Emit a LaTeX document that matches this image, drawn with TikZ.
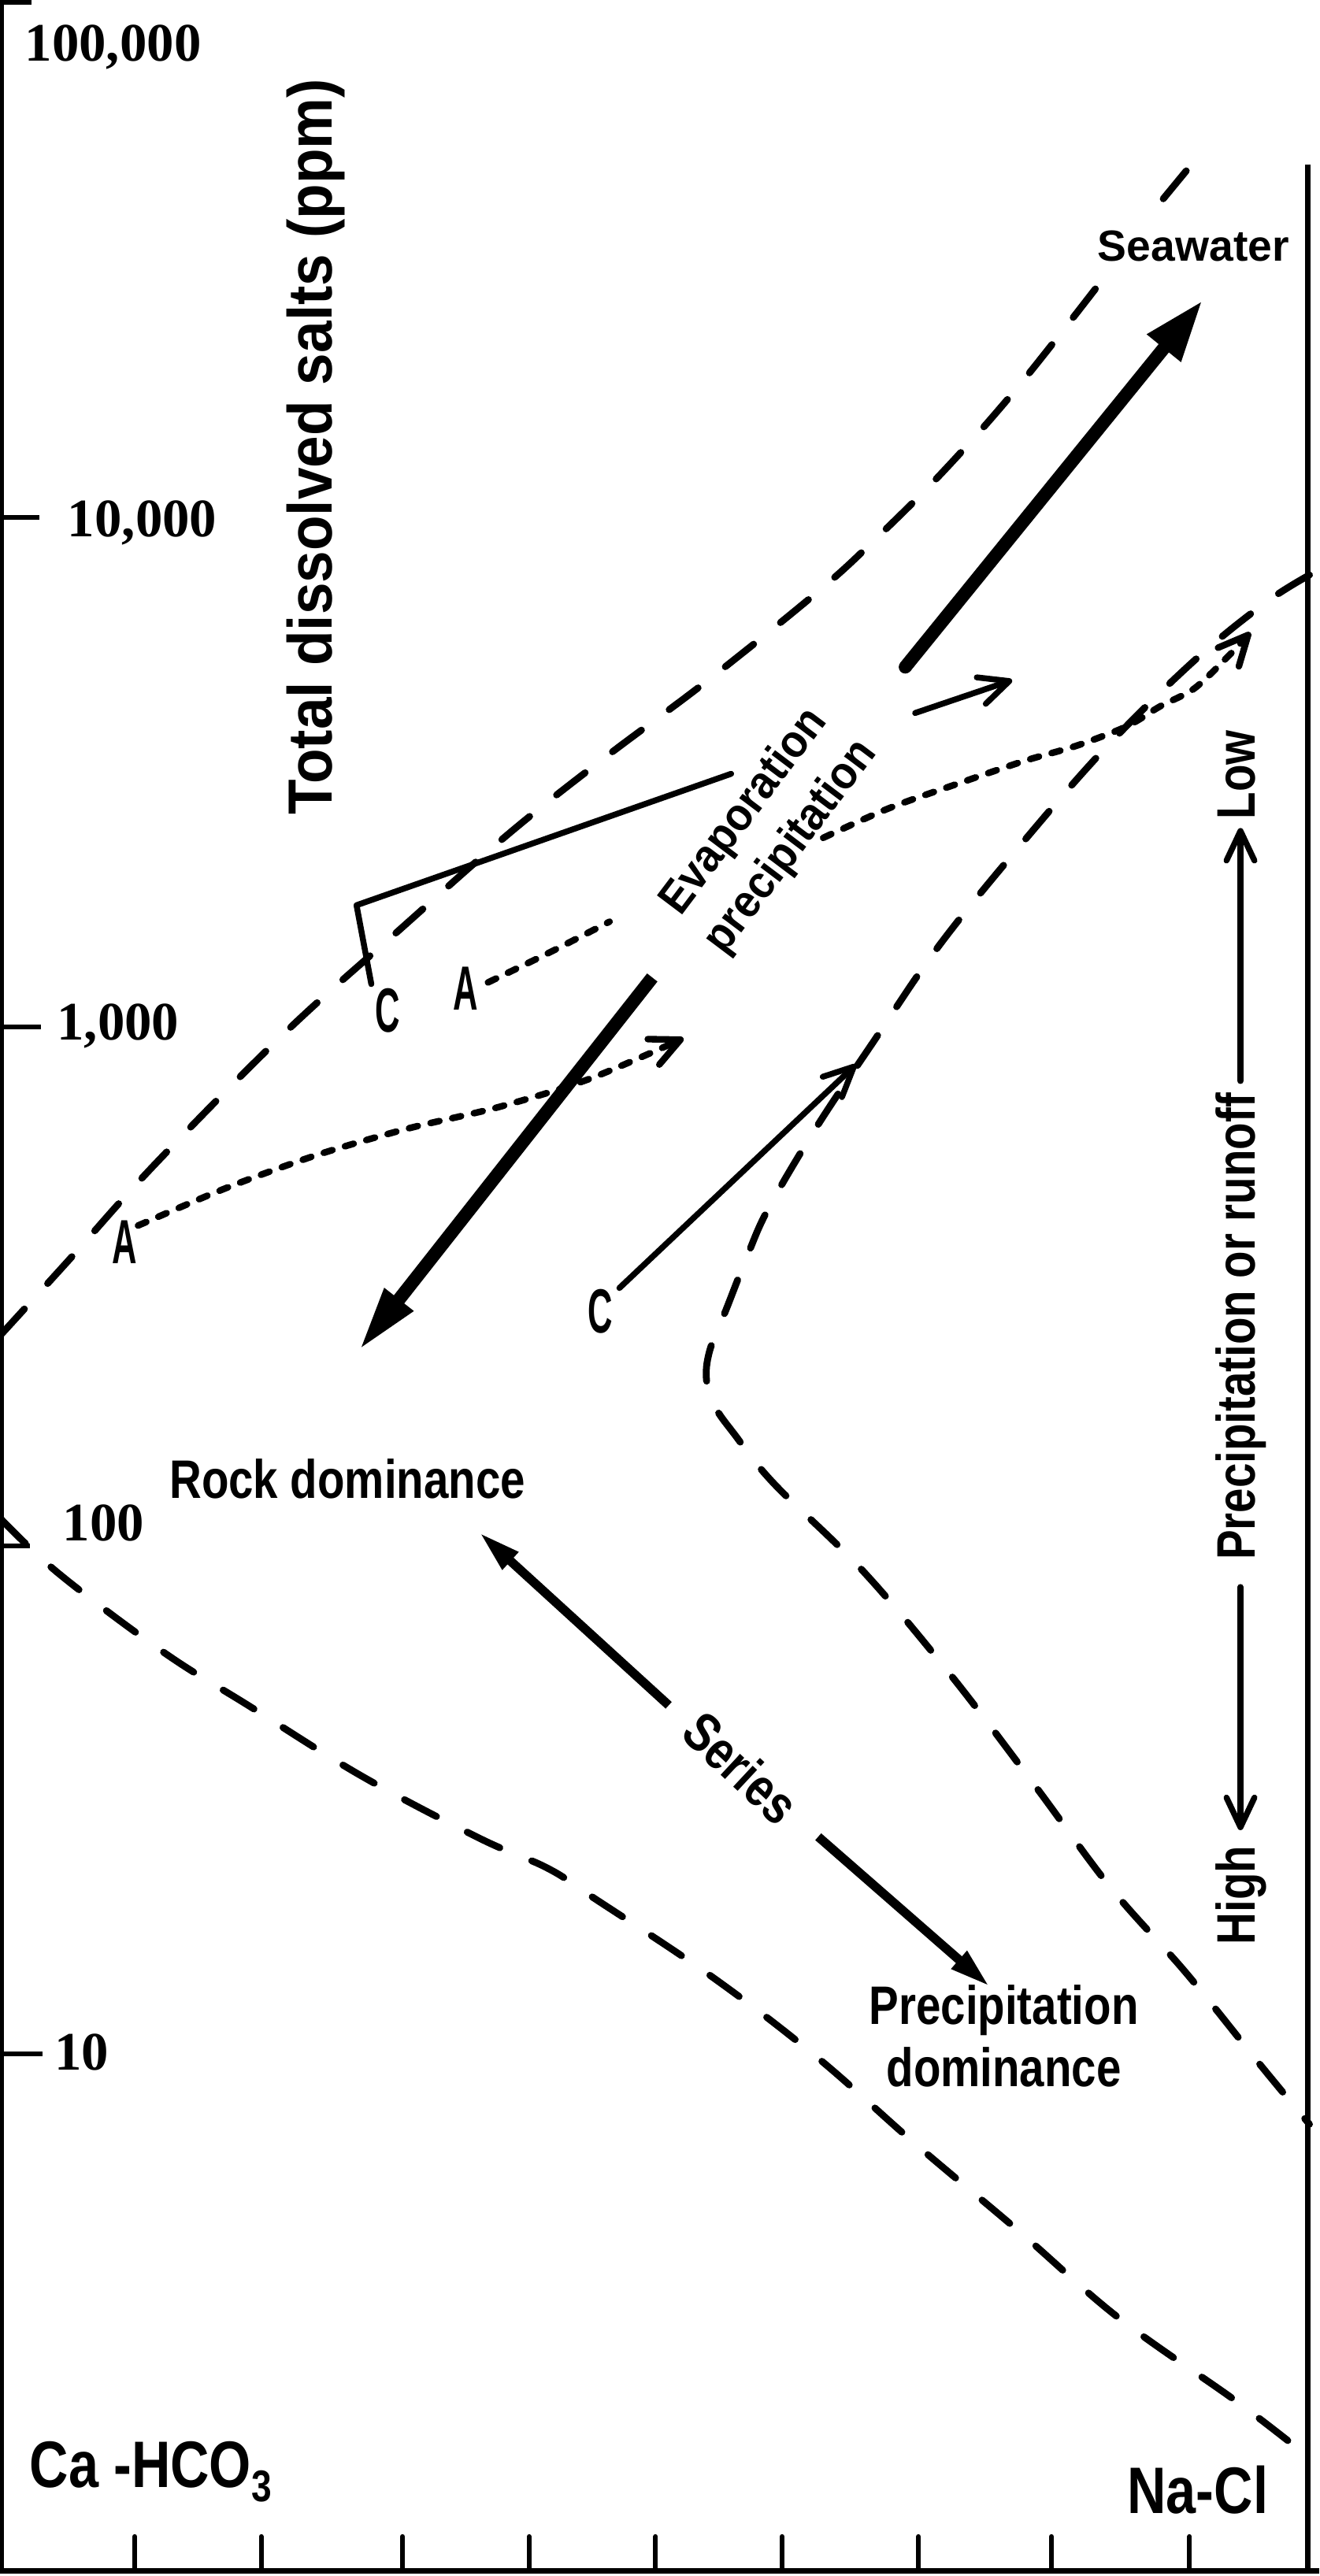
\documentclass[tikz,border=0pt]{standalone}
\usepackage{fontspec}
\setmainfont{Liberation Sans}
\newfontfamily\condf[FakeStretch=0.82]{Liberation Sans}
\newfontfamily\narf[FakeStretch=0.55]{Liberation Sans}
\newfontfamily\medf[FakeStretch=0.92]{Liberation Sans}
\newfontfamily\numf{Liberation Serif}
\usetikzlibrary{arrows.meta,calc}
\newcommand\bigarrow[5]{%
  \coordinate (ba-m) at ($(#2)!#4!(#1)$);
  \draw[line width=#3] (#1) -- ($(#2)!#4-1pt!(#1)$);
  \fill ($(ba-m)!0.5*#5!90:(#2)$) -- (#2) -- ($(ba-m)!0.5*#5!-90:(#2)$) -- cycle;
}
\begin{document}
\begin{tikzpicture}[x=1pt,y=-1pt,
  axisline/.style={line width=3pt},
  bndline/.style={line width=4.2pt,line cap=round,dash pattern=on 22pt off 21pt},
  dotline/.style={line width=4pt,line cap=round,dash pattern=on 5.5pt off 8pt},
  thinline/.style={line width=3.6pt,line cap=round,line join=round},
  barbtip/.style={-{Straight Barb[length=18pt,width=17pt,round]}},
  numlbl/.style={inner sep=0pt,anchor=base west,font=\numf\bfseries\fontsize{33pt}{38pt}\selectfont},
  condlbl/.style={inner sep=0pt,font=\condf\bfseries\fontsize{33pt}{38pt}\selectfont},
  bigcond/.style={inner sep=0pt,anchor=base west,font=\condf\bfseries\fontsize{40pt}{46pt}\selectfont},
  pointlbl/.style={inner sep=0pt,font=\narf\bfseries\fontsize{38pt}{44pt}\selectfont},
]
\useasboundingbox (0,0) rectangle (803,1568);
\fill[white] (0,0) rectangle (803,1568);

% ---------- frame ----------
\coordinate (LT) at (1.25,0); \coordinate (LB) at (1.25,1566);
\coordinate (RT) at (796,100); \coordinate (RB) at (796,1566);
\coordinate (BL) at (0,1565); \coordinate (BR) at (803,1565);
\draw[line width=2.5pt] (LT) -- (LB);
\draw[axisline] (RT) -- (RB);
\draw[line width=3.5pt] (BL) -- (BR);
% left ticks
\draw[axisline] (0,1.5) -- (19,1.5);
\draw[axisline] (0,315) -- (24,315);
\draw[axisline] (0,625) -- (25,625);
\draw[axisline] (0,941) -- (18,941);
\draw[axisline] (0,1250) -- (26,1250);
% bottom ticks
\foreach \x in {82,159,245,322,399,476,559,640,724}
  \draw[axisline,line cap=round] (\x,1544) -- (\x,1565);

% ---------- axis labels ----------
\node[numlbl] (n100k) at (15,37) {100,000};
\node[numlbl] (n10k) at (41,326.5) {10,000};
\node[numlbl] (n1k) at (34.5,633) {1,000};
\node[numlbl] (n100) at (38,938) {100};
\node[numlbl] (n10) at (33,1260) {10};
\node[inner sep=0pt,anchor=base,rotate=90,font=\medf\bfseries\fontsize{38pt}{42pt}\selectfont]
  (title) at (202,272) {Total dissolved salts (ppm)};

% ---------- boundary curves ----------
\draw[bndline] plot[smooth,tension=0.6] coordinates {(0,813) (41,768) (94,709) (173,629) (242,567) (309,508) (367,462) (431,414) (498,360) (533,328) (575,286) (620,235) (672,169)};
\coordinate (sw1) at (708,121); \coordinate (sw2) at (722,104);
\draw[line width=4.2pt,line cap=round] (sw1) -- (sw2);
\draw[bndline] plot[smooth,tension=0.6] coordinates {(797,350) (770,367) (727,402) (674,454) (624,511) (572,575) (531,635) (497,686) (468,735) (455,764) (442,797) (432,822) (430,840) (435,856) (447,873) (471,903) (525,956) (579,1020) (630,1087) (676,1149) (722,1201) (768,1258) (797,1293)};
\draw[bndline] plot[smooth,tension=0.6] coordinates {(0,924) (36,958) (100,1006) (151,1038) (220,1081) (292,1119) (333,1137) (361,1155) (433,1203) (497,1252) (556,1304) (620,1358) (681,1411) (753,1462) (797,1496)};

% ---------- point labels ----------
\node[pointlbl] (Alow) at (76,756) {A};
\node[pointlbl] (Aup) at (283.5,601.5) {A};
\node[pointlbl] (Cup) at (236,615) {C};
\node[pointlbl] (Clow) at (365.5,798) {C};

% ---------- dotted paths (A) ----------
\draw[dotline,barbtip] plot[smooth] coordinates {(84,746) (138,723) (193,703) (248,687) (303,674) (358,657) (416,632)};
\draw[dotline] plot[smooth] coordinates {(297,598) (334,580) (371,561)};
\draw[dotline,barbtip] plot[smooth] coordinates {(501,510) (541,492) (583,477) (624,463) (655,454) (686,442) (706,430) (727,419) (748,399) (761,385)};

% ---------- solid paths (C) ----------
\coordinate (c1) at (226,599); \coordinate (c2) at (217,551); \coordinate (c3) at (445,471);
\coordinate (c4) at (557,434); \coordinate (c5) at (616,414);
\draw[thinline] (c1) -- (c2) -- (c3);
\draw[thinline,barbtip] (c4) -- (c5);
\coordinate (c6) at (377,784); \coordinate (c7) at (521,648);
\draw[thinline,barbtip] (c6) -- (c7);

% ---------- thick arrows ----------
\coordinate (swA) at (551,406); \coordinate (swB) at (731,184);
\bigarrow{swA}{swB}{8pt}{36pt}{27pt}
\fill (swA) circle (4pt);
\coordinate (rkA) at (397,595); \coordinate (rkB) at (220,820);
\bigarrow{rkA}{rkB}{8pt}{37pt}{23pt}
\coordinate (s1A) at (407,1038); \coordinate (s1B) at (293,934);
\bigarrow{s1A}{s1B}{5.5pt}{24pt}{15pt}
\coordinate (s2A) at (498,1118); \coordinate (s2B) at (601,1208);
\bigarrow{s2A}{s2B}{5.5pt}{23pt}{15pt}

% ---------- text labels ----------
\node[inner sep=0pt,anchor=base west,font=\bfseries\fontsize{26.5pt}{30pt}\selectfont]
  (sea) at (668,159) {Seawater};
\node[inner sep=0pt,rotate=53,align=center,font=\medf\bfseries\fontsize{28pt}{35.6pt}\selectfont]
  (evap) at (467.5,505) {Evaporation\\precipitation};
\node[condlbl,anchor=base west] (rock) at (103,912) {Rock dominance};
\node[condlbl,anchor=base,align=center] (pd) at (611,1270) {Precipitation\\dominance};
\node[condlbl,rotate=-43] (series) at (451,1076) {Series};
\node[bigcond] (caco) at (18,1514) {Ca -HCO\raisebox{-0.22em}{\fontsize{27pt}{30pt}\selectfont 3}};
\node[bigcond] (nacl) at (686,1530) {Na-Cl};

% ---------- precipitation or runoff scale ----------
\node[condlbl,anchor=base,rotate=90] (low) at (764,471.5) {Low};
\node[condlbl,anchor=base,rotate=90] (por) at (764,807.5) {Precipitation or runoff};
\node[condlbl,anchor=base,rotate=90] (high) at (764,1153.5) {High};
\coordinate (uA) at (755,658); \coordinate (uB) at (755,504);
\coordinate (dA) at (755,966); \coordinate (dB) at (755,1114);
\draw[thinline,barbtip] (uA) -- (uB);
\draw[thinline,barbtip] (dA) -- (dB);
\end{tikzpicture}
\end{document}
